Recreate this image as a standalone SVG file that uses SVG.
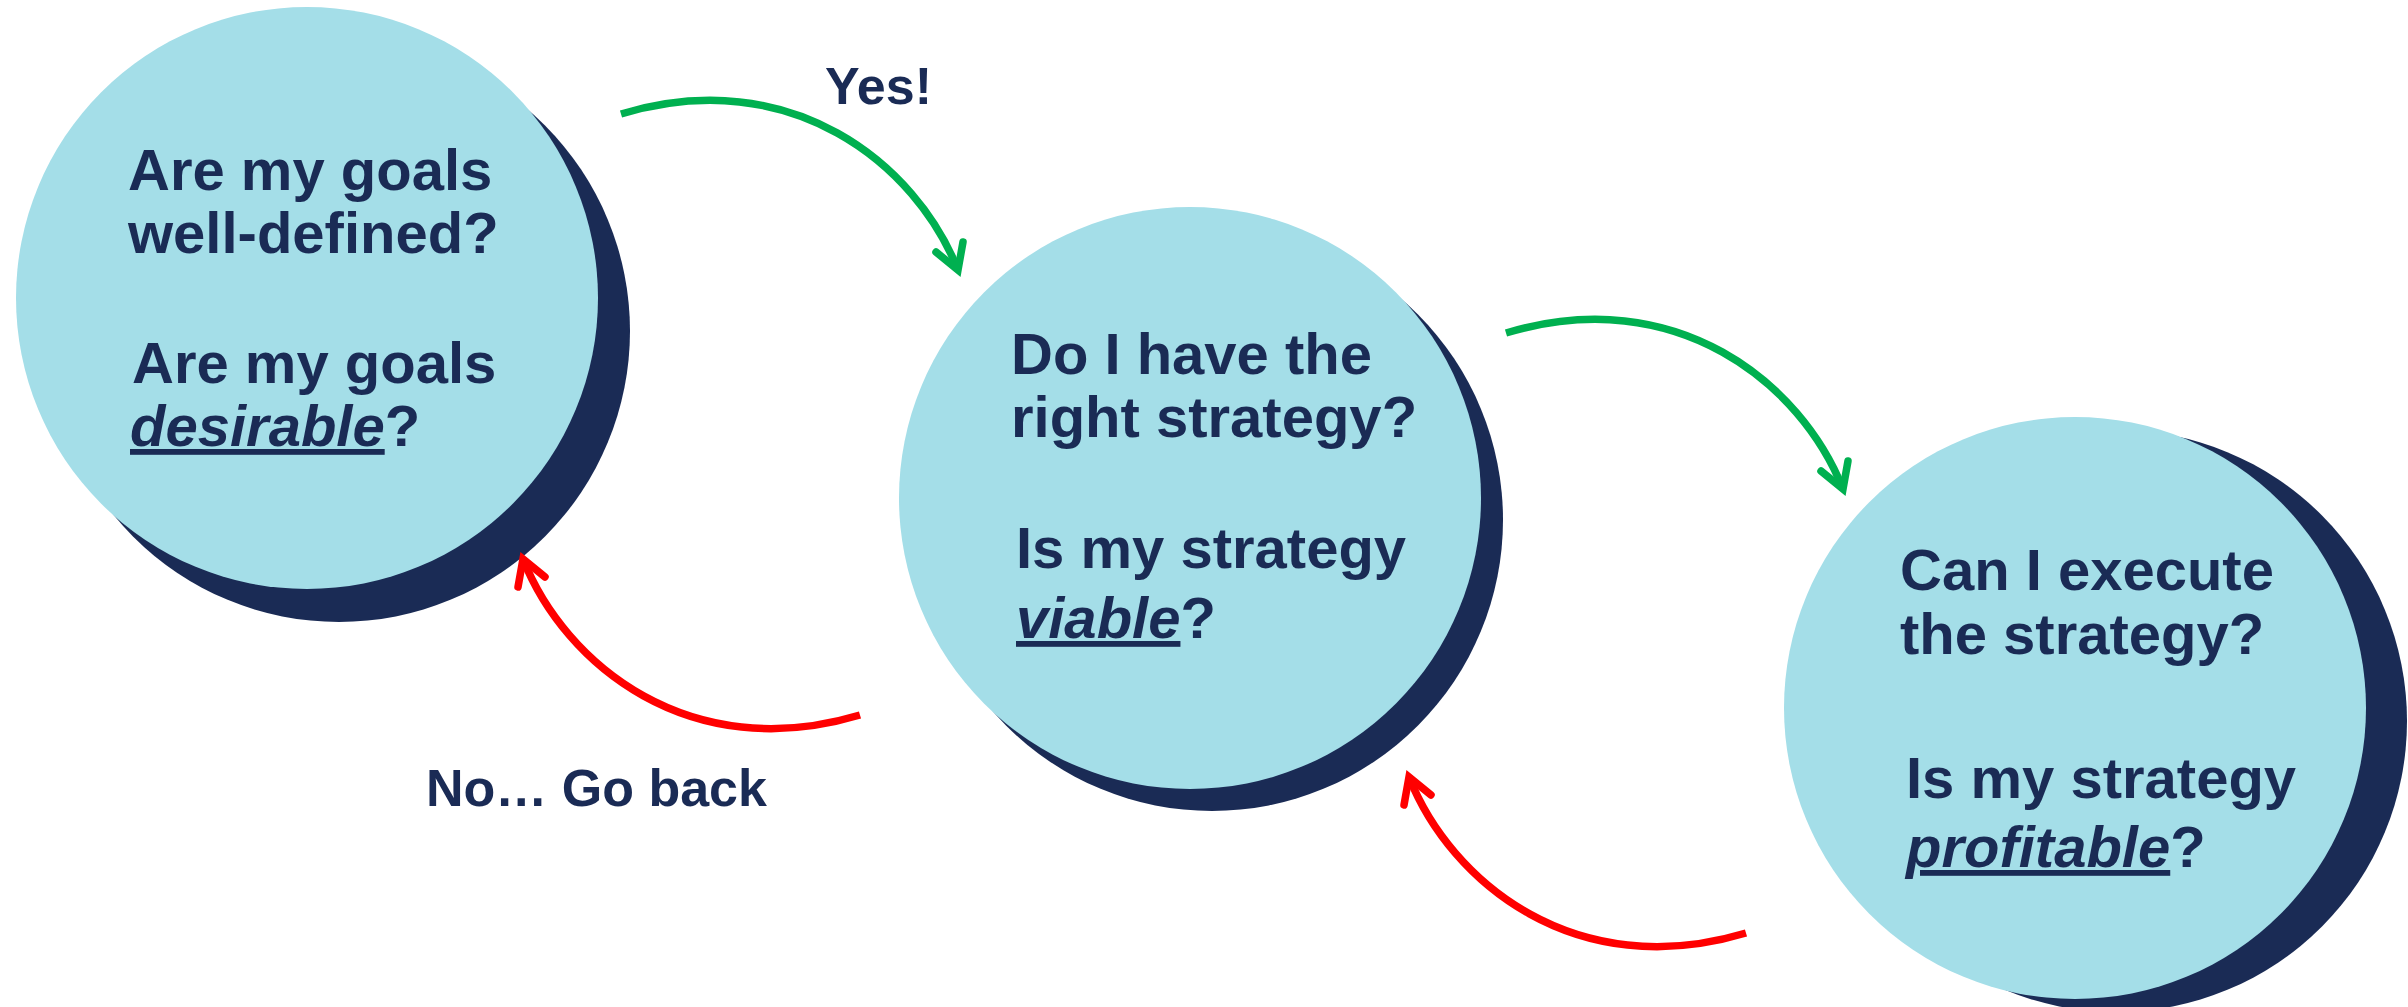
<svg xmlns="http://www.w3.org/2000/svg" xmlns:xlink="http://www.w3.org/1999/xlink" width="2408" height="1007" viewBox="0 0 2408 1007">
  <style>
    .face { fill: #A4DEE8; }
    .shade { fill: #1A2B55; }
    .q { font-family: "Liberation Sans", Arial, sans-serif; font-weight: 700; font-size: 58px; fill: #1A2B55; }
    .em { font-style: italic; text-decoration: underline; }
    .lbl { font-family: "Liberation Sans", Arial, sans-serif; font-weight: 700; font-size: 52px; fill: #1A2B55; }
    .go { stroke: #00B050; }
    .back { stroke: #FF0000; }
  </style>
  <defs>
    <!-- curved arrow, drawn from its tail at the origin -->
    <g id="bend" fill="none" stroke-width="7.5">
      <path d="M0,0 C170,-51 295,50 337,156" stroke-linecap="butt"/>
      <polyline points="315,138 337,156 342,128" stroke-linecap="round" stroke-linejoin="miter"/>
    </g>
  </defs>

  <rect width="2408" height="1007" fill="#FFFFFF"/>

  <g id="node-goals">
    <circle class="shade" cx="339" cy="331" r="291"/>
    <circle class="face" cx="307" cy="298" r="291"/>
    <text class="q" x="128" y="190">Are my goals</text>
    <text class="q" x="128" y="253">well-defined?</text>
    <text class="q" x="132" y="383">Are my goals</text>
    <text class="q" x="130" y="446"><tspan class="em">desirable</tspan>?</text>
  </g>

  <g id="node-strategy">
    <circle class="shade" cx="1212" cy="520" r="291"/>
    <circle class="face" cx="1190" cy="498" r="291"/>
    <text class="q" x="1011" y="374">Do I have the</text>
    <text class="q" x="1011" y="437">right strategy?</text>
    <text class="q" x="1016" y="568">Is my strategy</text>
    <text class="q" x="1016" y="638"><tspan class="em">viable</tspan>?</text>
  </g>

  <g id="node-execute">
    <circle class="shade" cx="2116" cy="721" r="291"/>
    <circle class="face" cx="2075" cy="708" r="291"/>
    <text class="q" x="1900" y="590">Can I execute</text>
    <text class="q" x="1900" y="654">the strategy?</text>
    <text class="q" x="1906" y="798">Is my strategy</text>
    <text class="q" x="1906" y="867"><tspan class="em">profitable</tspan>?</text>
  </g>

  <g id="connectors">
    <use xlink:href="#bend" class="go" transform="translate(621,114)"/>
    <use xlink:href="#bend" class="go" transform="translate(1506,333)"/>
    <use xlink:href="#bend" class="back" transform="translate(860,715) rotate(180)"/>
    <use xlink:href="#bend" class="back" transform="translate(1746,933) rotate(180)"/>
    <text class="lbl" x="825" y="104">Yes!</text>
    <text class="lbl" x="426" y="806">No… Go back</text>
  </g>
</svg>
